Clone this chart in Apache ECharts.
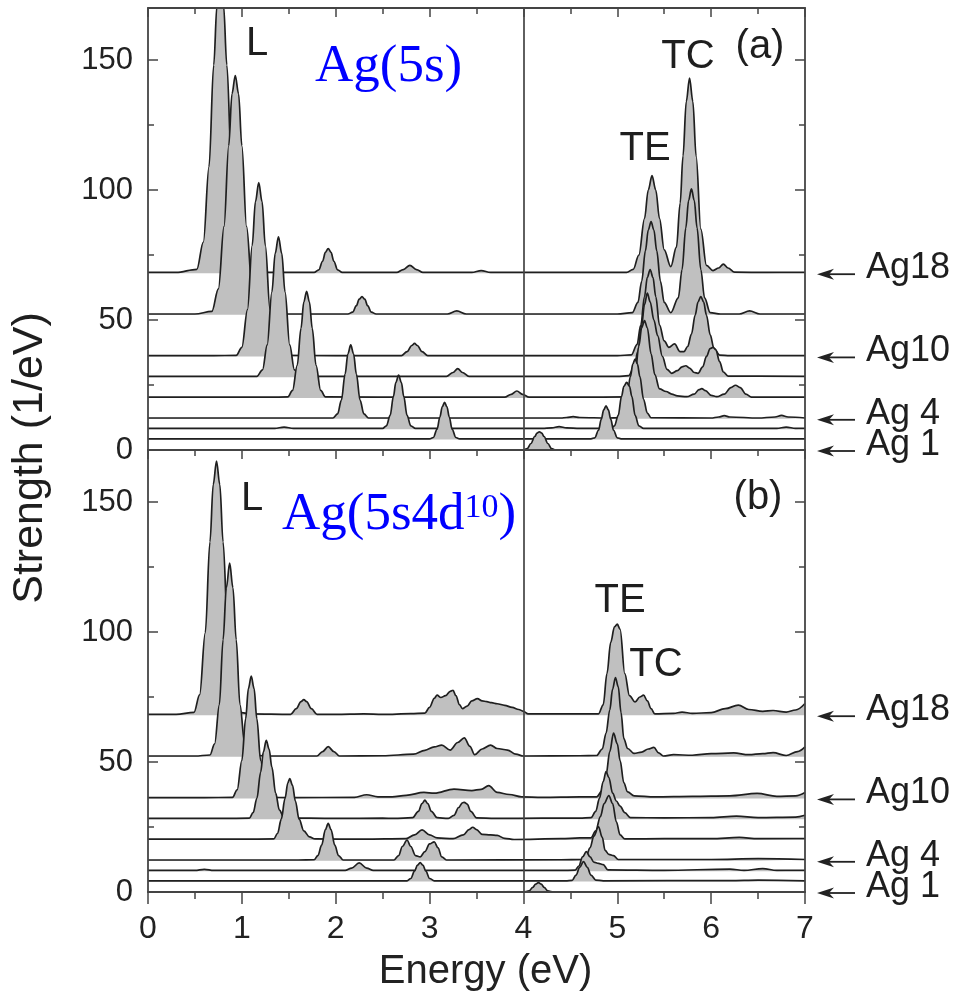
<!DOCTYPE html>
<html><head><meta charset="utf-8">
<script src="https://cdn.jsdelivr.net/npm/echarts@6/dist/echarts.min.js"></script>
<style>html,body{margin:0;padding:0;background:#fff}#c{width:957px;height:997px}</style>
</head><body><div id="c"></div>
<script>
// ---------- data ----------
const names = ['Ag18','Ag14','Ag10','Ag8','Ag6','Ag4','Ag3','Ag2','Ag1'];
const baselines = [68,52,36,28,20,12,8,4,0];
const xTicks = [0,1,2,3,4,5,6,7];
const yTicks = [0,50,100,150];
const arrowLabels = ['Ag18','Ag10','Ag 4','Ag 1'];
const arrowBases = [68,36,12,0];
const dividerEnergy = 4;

// panel (a): Ag(5s)   [energy eV, strength above the cluster baseline]
const a_Ag18 = [[0,0.3],[0.3,0.3],[0.52,1.5],[0.59,12],[0.65,41],[0.70,80],[0.735,103],[0.77,112],[0.805,103],[0.84,80],[0.89,41],[0.95,12],[1.02,1.5],[1.1,0.4],[1.5,0.3],[1.77,0.3],[1.82,1.3],[1.86,4.6],[1.89,8],[1.92,9.5],[1.95,8],[1.98,4.6],[2.02,1.3],[2.07,0.3],[2.5,0.3],[2.65,0.3],[2.72,1.4],[2.79,3],[2.86,1.4],[2.93,0.3],[3.3,0.3],[3.45,0.3],[3.55,1],[3.65,0.3],[4.2,0.3],[4.8,0.3],[5.1,0.3],[5.17,1.5],[5.23,7],[5.29,21],[5.33,32],[5.37,37.5],[5.41,32],[5.45,21],[5.50,9],[5.57,2.5],[5.63,10],[5.67,27],[5.70,45],[5.735,66],[5.77,75],[5.805,66],[5.84,45],[5.89,17],[5.95,3],[6.02,1],[6.08,2],[6.13,3.5],[6.18,2],[6.25,0.4],[6.6,0.3],[7,0.3]];
const a_Ag14 = [[0,0.3],[0.5,0.3],[0.68,1.3],[0.75,10],[0.81,34],[0.86,65],[0.895,85],[0.93,92],[0.965,85],[1.0,65],[1.05,34],[1.11,10],[1.18,1.3],[1.3,0.3],[2.0,0.3],[2.13,0.3],[2.18,1],[2.22,3.5],[2.25,6],[2.28,7],[2.31,6],[2.34,3.5],[2.38,1],[2.43,0.3],[3.0,0.3],[3.19,0.3],[3.29,1.5],[3.39,0.3],[4.5,0.3],[5.0,0.3],[5.16,0.8],[5.22,4.8],[5.26,12.9],[5.30,24.7],[5.33,32.6],[5.36,35.8],[5.39,32.6],[5.42,24.7],[5.46,12.9],[5.50,4.8],[5.57,0.8],[5.65,6.5],[5.69,17.4],[5.73,33.4],[5.76,44],[5.79,48.4],[5.82,44],[5.85,33.4],[5.89,17.4],[5.93,6.5],[5.99,0.8],[6.1,0.3],[6.3,0.3],[6.41,1.5],[6.52,0.3],[7,0.3]];
const a_Ag10 = [[0,0.3],[0.7,0.3],[0.94,0.4],[1.0,3.5],[1.06,18],[1.11,42.7],[1.145,59.6],[1.18,66.8],[1.215,59.6],[1.25,42.7],[1.30,18],[1.36,3.5],[1.42,0.4],[2.0,0.3],[2.70,0.3],[2.76,1.8],[2.81,4.2],[2.84,5],[2.87,4.2],[2.92,1.8],[2.98,0.3],[4.0,0.3],[5.0,0.3],[5.15,0.6],[5.21,4.5],[5.25,12],[5.29,23],[5.32,30.4],[5.35,33.4],[5.38,30.4],[5.41,23],[5.45,12],[5.50,6],[5.55,3.5],[5.61,4.8],[5.67,1.8],[5.71,1.8],[5.75,3.8],[5.79,8.6],[5.83,15.9],[5.86,20.9],[5.89,23],[5.92,20.9],[5.95,15.9],[5.99,8.3],[6.03,3.1],[6.09,0.5],[6.2,0.3],[7,0.3]];
const a_Ag8 = [[0,0.3],[1.0,0.3],[1.16,0.3],[1.22,2.8],[1.27,12.4],[1.32,32.8],[1.355,47.6],[1.39,54],[1.425,47.6],[1.46,32.8],[1.51,12.4],[1.56,2.8],[1.62,0.3],[2.5,0.3],[3.18,0.3],[3.25,1.8],[3.30,3.3],[3.35,1.8],[3.42,0.3],[4.5,0.3],[5.0,0.3],[5.12,0.6],[5.18,4],[5.22,10],[5.26,20],[5.29,28],[5.32,32.3],[5.35,29],[5.39,22],[5.43,16],[5.48,8],[5.53,3],[5.58,1.5],[5.64,2.5],[5.69,4],[5.73,4.4],[5.77,3.5],[5.82,1.8],[5.86,1.5],[5.91,4],[5.95,8],[5.99,11],[6.02,11.5],[6.05,10.5],[6.09,6],[6.13,2],[6.18,0.4],[7,0.3]];
const a_Ag6 = [[0,0.3],[1.3,0.3],[1.49,0.4],[1.54,2.9],[1.59,12.6],[1.63,26.8],[1.66,36.9],[1.69,41],[1.72,36.9],[1.75,26.8],[1.79,12.6],[1.84,2.9],[1.89,0.4],[3.0,0.3],[3.80,0.3],[3.87,1.4],[3.93,2.7],[3.99,1.4],[4.06,0.3],[4.6,0.3],[5.1,0.4],[5.14,2],[5.19,9],[5.23,20],[5.26,27],[5.29,29.8],[5.32,27],[5.36,17],[5.40,9],[5.45,3.5],[5.52,2.5],[5.58,1.5],[5.64,0.8],[5.74,0.5],[5.82,1.5],[5.87,3.2],[5.90,3.6],[5.94,2.8],[6.0,1],[6.06,0.5],[6.14,1.5],[6.21,4],[6.26,4.9],[6.31,4],[6.37,1.5],[6.43,0.3],[7,0.3]];
const a_Ag4 = [[0,0.3],[1.6,0.3],[1.97,0.3],[2.02,1.9],[2.06,7.1],[2.10,17.2],[2.13,25],[2.16,28.4],[2.19,25],[2.22,17.2],[2.26,7.1],[2.30,1.9],[2.35,0.3],[4.4,0.3],[4.46,0.5],[4.53,0.8],[4.6,0.5],[4.9,0.3],[5.02,0.4],[5.06,2.2],[5.10,7.5],[5.14,16.3],[5.165,21],[5.19,23],[5.215,21],[5.24,16.3],[5.28,7.5],[5.32,2.2],[5.36,0.4],[6.0,0.3],[6.08,0.7],[6.14,1.2],[6.2,0.7],[6.5,0.3],[6.68,0.7],[6.75,1.3],[6.82,0.7],[7,0.3]];
const a_Ag3 = [[0,0.3],[1.35,0.3],[1.45,0.8],[1.55,0.3],[2.5,0.3],[2.54,1.3],[2.58,5.3],[2.615,12.6],[2.64,17.9],[2.67,20.8],[2.70,17.9],[2.725,12.6],[2.76,5.3],[2.80,1.3],[2.85,0.3],[4.2,0.3],[4.3,0.5],[4.38,1],[4.46,0.5],[4.6,0.3],[4.93,0.3],[4.97,1.3],[5.01,5.3],[5.045,12.6],[5.07,16.5],[5.10,18],[5.13,16.5],[5.155,12.6],[5.19,5.3],[5.23,1.3],[5.28,0.3],[6.7,0.3],[6.8,0.8],[6.9,0.3],[7,0.3]];
const a_Ag2 = [[0,0.3],[3.0,0.3],[3.04,0.8],[3.08,4],[3.11,8.7],[3.135,12.6],[3.16,14.3],[3.185,12.6],[3.21,8.7],[3.24,4],[3.28,0.8],[3.32,0.3],[4.6,0.3],[4.72,0.3],[4.76,0.7],[4.80,3.6],[4.83,7.9],[4.855,11.4],[4.88,13],[4.905,11.4],[4.93,7.9],[4.96,3.6],[5.00,0.7],[5.04,0.3],[7,0.3]];
const a_Ag1 = [[0,0],[4.0,0],[4.04,0.5],[4.08,2.5],[4.12,5.2],[4.145,6.5],[4.17,7],[4.195,6.5],[4.22,5.2],[4.26,2.5],[4.30,0.5],[4.34,0],[7,0]];

// panel (b): Ag(5s4d10)
const b_Ag18 = [[0,0.3],[0.3,0.3],[0.49,1.1],[0.55,7.8],[0.61,31.7],[0.66,66.6],[0.695,88.7],[0.73,97.7],[0.765,88.7],[0.80,66.6],[0.85,31.7],[0.91,7.8],[0.97,1.1],[1.1,0.5],[1.52,0.3],[1.58,2.5],[1.63,5.2],[1.66,6],[1.69,5.2],[1.74,2.5],[1.80,0.3],[2.0,0.3],[2.3,0.5],[2.5,0.3],[2.8,0.6],[2.95,0.8],[3.0,3],[3.05,6.5],[3.08,7.7],[3.12,6.8],[3.17,7.5],[3.22,9.2],[3.25,9.6],[3.28,7.5],[3.32,4],[3.35,2.5],[3.40,3.5],[3.45,5.5],[3.51,6.4],[3.56,5.5],[3.61,5.2],[3.66,4.8],[3.72,4.4],[3.80,3.8],[3.88,3],[3.95,2.2],[4.0,1.5],[4.05,0.5],[4.5,0.5],[4.80,0.5],[4.85,4],[4.89,16],[4.93,28],[4.97,34],[5.0,35],[5.03,33],[5.08,16],[5.13,7.5],[5.19,5.1],[5.24,7],[5.28,7.7],[5.32,5.5],[5.36,2.5],[5.40,0.5],[5.6,0.7],[5.69,1.2],[5.8,0.7],[6.0,1],[6.15,2.5],[6.29,3.9],[6.4,2.2],[6.55,1.5],[6.66,1.8],[6.8,1.2],[6.9,2],[7.0,4.5]];
const b_Ag14 = [[0,0.3],[0.5,0.3],[0.66,0.7],[0.71,5],[0.76,20],[0.80,45],[0.835,65],[0.87,74.5],[0.905,65],[0.94,45],[0.98,20],[1.03,5],[1.08,0.7],[1.3,0.3],[1.80,0.3],[1.86,2],[1.92,3.9],[1.98,2],[2.04,0.3],[2.5,0.4],[2.83,1],[2.95,2.5],[3.05,3.8],[3.13,4.5],[3.22,2.6],[3.30,5.5],[3.37,7.3],[3.43,4],[3.48,0.8],[3.56,3],[3.65,4.5],[3.72,3.2],[3.83,2.6],[3.92,1],[4.0,0.3],[4.6,0.4],[4.78,0.5],[4.84,3],[4.88,9],[4.92,18],[4.95,26],[4.98,30.5],[5.01,27],[5.04,17],[5.07,7],[5.11,3.2],[5.18,1.3],[5.26,1.8],[5.33,3],[5.39,3.6],[5.44,1.5],[5.49,0.3],[5.6,0.8],[5.8,0.6],[6.0,1.2],[6.24,1.5],[6.4,0.8],[6.55,1.2],[6.66,1.6],[6.8,0.5],[6.92,2],[7.0,3.8]];
const b_Ag10 = [[0,0.3],[0.6,0.3],[0.90,0.4],[0.95,3.3],[1.0,14.6],[1.04,30.6],[1.07,42.3],[1.10,47],[1.13,42.3],[1.16,30.6],[1.20,14.6],[1.25,3.3],[1.30,0.4],[1.5,0.3],[2.2,0.4],[2.33,1.4],[2.45,0.6],[2.6,0.6],[2.75,1.2],[2.94,2.3],[3.05,2],[3.26,3.6],[3.45,3],[3.55,3.5],[3.63,4.9],[3.72,2.3],[3.85,1.5],[3.98,0.6],[4.2,0.4],[4.6,0.6],[4.78,0.6],[4.84,3],[4.88,9],[4.92,18],[4.96,25.1],[5.0,21],[5.03,14.5],[5.07,6],[5.11,2.5],[5.18,1],[5.4,0.6],[5.8,0.8],[6.2,1],[6.49,1.9],[6.7,0.8],[6.9,1],[7.0,2.3]];
const b_Ag8 = [[0,0.3],[0.8,0.3],[1.08,0.4],[1.12,2.5],[1.16,8],[1.20,18],[1.23,26],[1.26,30.3],[1.29,27],[1.32,20],[1.36,10],[1.40,3.5],[1.45,0.5],[2.0,0.3],[2.5,0.4],[2.62,0.3],[2.82,0.6],[2.88,3],[2.92,6],[2.95,7.3],[2.98,6],[3.02,3],[3.08,0.6],[3.2,0.3],[3.26,1.5],[3.31,4.5],[3.35,6.3],[3.37,6.5],[3.40,5.8],[3.44,3],[3.50,0.5],[3.7,0.3],[4.2,0.4],[4.6,0.4],[4.72,0.6],[4.77,3],[4.81,8],[4.85,14.5],[4.88,18.3],[4.91,16],[4.95,10],[4.99,7],[5.03,5],[5.08,2.5],[5.14,0.6],[5.5,0.5],[6.0,0.6],[6.27,1.2],[6.5,0.6],[6.9,0.8],[7.0,1.5]];
const b_Ag6 = [[0,0.3],[1.0,0.3],[1.34,0.4],[1.38,2.5],[1.42,8],[1.46,16],[1.49,22],[1.51,23.6],[1.54,21],[1.57,15],[1.61,8],[1.66,3.5],[1.72,1.2],[1.78,0.4],[2.3,0.3],[2.75,0.5],[2.84,2],[2.92,3.9],[3.0,2],[3.08,0.8],[3.25,0.5],[3.36,2],[3.42,4],[3.46,4.9],[3.50,4],[3.56,2.2],[3.65,2],[3.72,1.8],[3.80,0.6],[3.9,0.2],[4.4,0.5],[4.6,0.8],[4.72,0.8],[4.77,3.5],[4.82,9],[4.86,14],[4.91,17.1],[4.95,14],[4.99,7],[5.03,2],[5.08,0.4],[5.5,0.5],[6.0,0.5],[6.3,1],[6.5,0.5],[7.0,0.5]];
const b_Ag4 = [[0,0.3],[1.6,0.3],[1.77,0.4],[1.81,2],[1.85,6],[1.89,12],[1.92,14.4],[1.95,12],[1.99,6],[2.03,2],[2.08,0.3],[2.62,0.3],[2.67,2],[2.71,5.5],[2.76,8],[2.80,5.5],[2.85,2],[2.90,1.5],[2.95,3.5],[3.0,6.5],[3.05,7.3],[3.09,5],[3.13,1.5],[3.18,0.3],[4.4,0.4],[4.62,0.5],[4.67,2],[4.71,5],[4.75,9.5],[4.80,13.1],[4.84,9],[4.87,4],[4.91,2.5],[4.96,2],[5.01,0.5],[5.5,0.5],[6.0,0.5],[6.5,0.8],[7,0.5]];
const b_Ag3 = [[0,0.3],[0.5,0.3],[0.6,0.7],[0.7,0.3],[2.1,0.3],[2.17,1.2],[2.25,3.2],[2.33,1.2],[2.4,0.3],[4.4,0.3],[4.55,0.4],[4.59,2],[4.63,5.5],[4.67,7.5],[4.71,5.5],[4.75,3.5],[4.80,3],[4.85,2.5],[4.90,0.5],[5.5,0.3],[6.2,0.8],[6.35,0.3],[6.55,1],[6.7,0.3],[7,0.3]];
const b_Ag2 = [[0,0.3],[2.76,0.3],[2.80,1.2],[2.84,4],[2.87,6.3],[2.90,7.3],[2.93,6.3],[2.96,4],[3.0,1.2],[3.05,0.3],[4.45,0.3],[4.52,0.5],[4.56,2.5],[4.60,5.5],[4.64,7.7],[4.68,5.5],[4.72,2.5],[4.77,0.6],[4.85,0.3],[6.2,0.4],[6.5,0.6],[7,0.3]];
const b_Ag1 = [[0,0],[4.0,0],[4.06,0.4],[4.1,1.8],[4.13,3],[4.16,3.6],[4.19,3],[4.22,1.8],[4.26,0.4],[4.32,0],[7,0]];

const panelA = [a_Ag18,a_Ag14,a_Ag10,a_Ag8,a_Ag6,a_Ag4,a_Ag3,a_Ag2,a_Ag1];
const panelB = [b_Ag18,b_Ag14,b_Ag10,b_Ag8,b_Ag6,b_Ag4,b_Ag3,b_Ag2,b_Ag1];

// ---------- chart ----------
const SANS = 'Liberation Sans, Arial, Helvetica, sans-serif';
const SERIF = 'Liberation Serif, Times New Roman, serif';
const frame = {color:'#444', width:1.8};
const tickStyle = {color:'#444', width:1.5};
const chart = echarts.init(document.getElementById('c'), null, {renderer:'canvas', width:957, height:997});

function xAx(grid, pos, opts) {
  return Object.assign({
    gridIndex:grid, type:'value', min:0, max:7, interval:1, position:pos, z:30,
    axisLine:{show:true, onZero:false, lineStyle:frame},
    axisTick:{show:true, inside:true, length:9, lineStyle:tickStyle},
    minorTick:{show:true, splitNumber:2, length:6, lineStyle:tickStyle},
    axisLabel:{show:false}, splitLine:{show:false}, minorSplitLine:{show:false}
  }, opts);
}
function yAx(grid, pos, interval, len, line, labels) {
  return {
    gridIndex:grid, type:'value', min:0, max:170, interval:interval, position:pos, z:30,
    axisLine:{show:line, onZero:false, lineStyle:frame},
    axisTick:{show:true, inside:true, length:len, lineStyle:tickStyle},
    axisLabel:{show:labels, margin:15, fontFamily:SANS, fontSize:31, color:'#222',
      showMaxLabel:false, formatter:v => yTicks.indexOf(v) >= 0 ? String(v) : ''},
    splitLine:{show:false}
  };
}

function makeSeries(panel, xi, yi) {
  return panel.map((pts, i) => ({
    type:'line', name:names[i], xAxisIndex:xi, yAxisIndex:yi,
    data: pts.map(p => [p[0], p[1] + baselines[i]]),
    symbol:'none', showSymbol:false, smooth:0.35, smoothMonotone:'x',
    lineStyle:{color:'#1f1f1f', width:1.7},
    areaStyle:{color:'#c0c0c0', opacity:1, origin:baselines[i]},
    z:2 + i, silent:true, clip:true,
    markLine: i === panel.length - 1 ? {
      silent:true, symbol:'none', z:25, label:{show:false},
      lineStyle:{color:'#444', width:1.7, type:'solid'},
      data:[{xAxis:dividerEnergy}]
    } : undefined
  }));
}

const option = {
  animation:false,
  backgroundColor:'#fff',
  grid:[
    {left:148, right:152, top:8, height:442},
    {left:148, right:152, top:450, height:442}
  ],
  xAxis:[
    xAx(0,'bottom',{axisLine:{show:false, onZero:false}, axisTick:{show:false}, minorTick:{show:false}}),
    xAx(0,'top',{}),
    xAx(1,'bottom',{
      axisTick:{show:true, inside:false, length:12, lineStyle:tickStyle},
      minorTick:{show:true, splitNumber:2, length:7, lineStyle:tickStyle},
      axisLabel:{show:true, margin:21, fontFamily:SANS, fontSize:32, color:'#222',
        formatter:v => xTicks.indexOf(v) >= 0 ? String(v) : ''},
      name:'Energy (eV)', nameLocation:'middle', nameGap:60,
      nameTextStyle:{fontFamily:SANS, fontSize:40, color:'#222', padding:[0,0,0,18]}
    }),
    xAx(1,'top',{})
  ],
  yAxis:[
    yAx(0,'left',50,10,true,true),
    yAx(0,'left',25,6,false,false),
    yAx(0,'right',50,10,true,false),
    yAx(0,'right',25,6,false,false),
    yAx(1,'left',50,10,true,true),
    yAx(1,'left',25,6,false,false),
    yAx(1,'right',50,10,true,false),
    yAx(1,'right',25,6,false,false)
  ],
  series: makeSeries(panelA,0,0).concat(makeSeries(panelB,2,4))
};
chart.setOption(option);

// ---------- annotations ----------
function txt(x, y, text, size, opts) {
  return {
    type:'text', x:x, y:y, z:50, silent:true,
    style:Object.assign({text:text, fill:'#1e1e1e', font:size + 'px ' + SANS,
      textAlign:'center', textVerticalAlign:'middle', align:'center', verticalAlign:'middle'}, opts || {})
  };
}
const g = [];
// axis title (rotated)
g.push({type:'text', x:30, y:458, rotation:Math.PI/2, z:50, silent:true,
  style:{text:'Strength (1/eV)', fill:'#1e1e1e', font:'43px ' + SANS,
    textAlign:'center', textVerticalAlign:'middle', align:'center', verticalAlign:'middle'}});
// panel (a)
g.push(txt(257, 44, 'L', 40));
g.push(txt(645, 149, 'TE', 40));
g.push(txt(688, 57, 'TC', 40));
g.push(txt(760, 47, '(a)', 40));
g.push({type:'text', x:315, y:67, z:50, silent:true,
  style:{text:'Ag(5s)', fill:'#0000ff', font:'53px ' + SERIF,
    textAlign:'left', textVerticalAlign:'middle', align:'left', verticalAlign:'middle'}});
// panel (b)
g.push(txt(252, 499, 'L', 40));
g.push(txt(620, 601, 'TE', 40));
g.push(txt(656, 665, 'TC', 40));
g.push(txt(758, 498, '(b)', 40));
g.push({type:'text', x:282, y:515, z:50, silent:true,
  style:{text:'{a|Ag(5s4d}{s|10}{a|)}', textAlign:'left', textVerticalAlign:'middle', align:'left', verticalAlign:'middle',
    rich:{
      a:{fontFamily:SERIF, fontSize:53, fill:'#0000ff', color:'#0000ff', lineHeight:60},
      s:{fontFamily:SERIF, fontSize:34, fill:'#0000ff', color:'#0000ff', lineHeight:34, verticalAlign:'top', padding:[6,0,0,0]}
    }}});
// arrows with cluster labels, anchored to axis coordinates
[[0,0],[2,4]].forEach(([xi, yi]) => {
  arrowBases.forEach((b, k) => {
    const p = chart.convertToPixel({xAxisIndex:xi, yAxisIndex:yi}, [7, b]);
    const tip = p[0] + 12, y = p[1] + 1;
    g.push({type:'line', z:50, silent:true, shape:{x1:tip + 6, y1:y, x2:tip + 38, y2:y}, style:{stroke:'#222', lineWidth:1.8}});
    g.push({type:'polygon', z:50, silent:true, shape:{points:[[tip,y],[tip + 17,y - 5.5],[tip + 12,y],[tip + 17,y + 5.5]]}, style:{fill:'#222'}});
    g.push(txt(p[0] + 61, y - 6, arrowLabels[k], 36, {textAlign:'left', align:'left'}));
  });
});
chart.setOption({graphic:g});
</script>
</body></html>
